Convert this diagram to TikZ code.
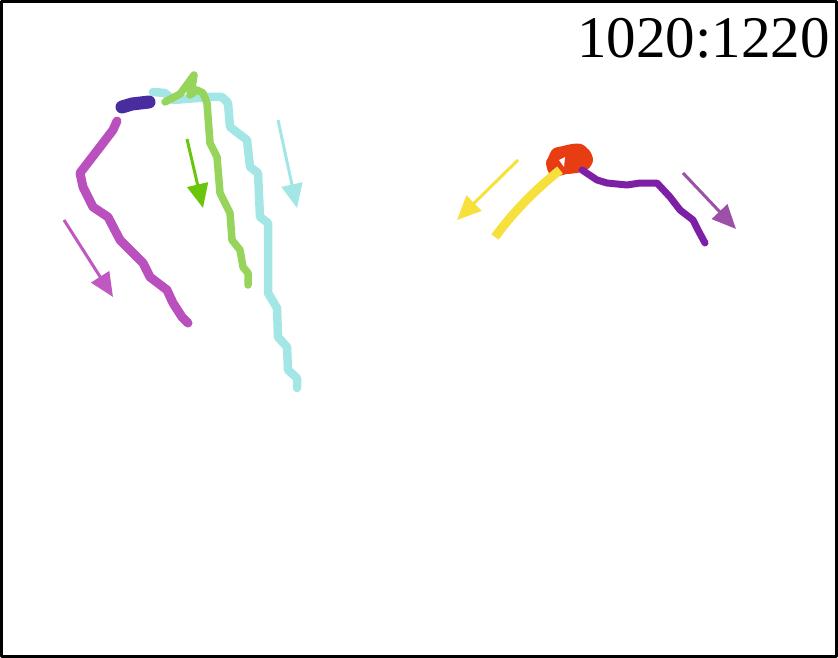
\documentclass[tikz,border=0pt]{standalone}
\usepackage{fontspec}
\setmainfont{Liberation Serif}
\usetikzlibrary{arrows.meta}

\begin{document}
\begin{tikzpicture}[x=1pt, y=-1pt, line join=round,
  track/.style={line width=#1, line cap=round},
  track/.default=7pt,
  motion/.style={draw=#1, line width=3pt,
    -{Triangle[length=24pt, width=21pt, fill=#1]}}]
  \useasboundingbox (0,0) rectangle (838,658);
  \draw[line width=3pt] (1.5,1.5) rectangle (836.5,656.5);
  \node[anchor=base east, inner sep=0pt, font=\fontsize{59}{60}\selectfont]
    (stamp) at (830,58) {1020:1220};
  % left group
  \definecolor{plum}{RGB}{186,80,190}
  \definecolor{plumarrow}{RGB}{192,88,194}
  \definecolor{indigo}{RGB}{72,44,160}
  \definecolor{aqua}{RGB}{164,230,230}
  \definecolor{lime}{RGB}{150,212,92}
  \definecolor{limearrow}{RGB}{106,198,12}
  \draw[track=8.5pt, aqua] (153,92) -- (165,93) -- (173,100) -- (210,97)
    -- (222,97) -- (228,103) -- (230,127) -- (247,140) -- (250,167)
    -- (258,173) -- (260,217) -- (268,223) -- (268,293) -- (277,308)
    -- (278,337) -- (287,347) -- (288,370) -- (297,378) -- (297,388);
  \draw[track=7.5pt, lime] (165,102) -- (180,94) -- (186,86) -- (194,75)
    -- (192,88) -- (190,95) -- (197,90) -- (203,93) -- (207,103)
    -- (210,143) -- (217,157) -- (220,193) -- (230,213) -- (232,240)
    -- (240,250) -- (243,267) -- (248,273) -- (248,285);
  \draw[track=13pt, indigo] (122,107) -- (132,104) -- (149,102);
  \draw[track=9pt, plum] (117,121) -- (113,130) -- (100,147) -- (80,173)
    -- (83,187) -- (93,207) -- (108,217) -- (120,240) -- (130,250)
    -- (143,263) -- (150,277) -- (167,290) -- (173,303) -- (182,317)
    -- (188,323);
  \coordinate (p0) at (64,220);
  \coordinate (p1) at (113,297);
  \coordinate (g0) at (187,139);
  \coordinate (g1) at (203,208);
  \coordinate (c0) at (278,120);
  \coordinate (c1) at (297,208);
  \draw[motion=plumarrow] (p0) -- (p1);
  \draw[motion=limearrow] (g0) -- (g1);
  \draw[motion=aqua] (c0) -- (c1);
  % right group
  \definecolor{sun}{RGB}{246,224,60}
  \definecolor{ember}{RGB}{232,60,18}
  \definecolor{grape}{RGB}{126,32,166}
  \definecolor{grapearrow}{RGB}{156,80,168}
  \fill[ember] plot[smooth cycle, tension=0.6] coordinates {(548,158)
    (553,149) (563,146) (572,144) (581,144) (589,150) (593,160)
    (588,169) (577,173) (567,174) (557,176) (549,173) (546,163)};
  \fill[white] (559,160) -- (565,157) -- (564,167) -- cycle;
  \draw[track=7pt, grape] (582,170) -- (597,180) -- (607,183) -- (627,185)
    -- (640,183) -- (657,183) -- (670,197) -- (680,210) -- (693,220)
    -- (698,230) -- (705,243);
  \draw[line width=9pt, sun] (495,237) .. controls (515,210) and (535,190) .. (560,170);
  \coordinate (y0) at (518,160);
  \coordinate (y1) at (457,220);
  \coordinate (v0) at (683,173);
  \coordinate (v1) at (736,229);
  \draw[motion=sun] (y0) -- (y1);
  \draw[motion=grapearrow] (v0) -- (v1);
\end{tikzpicture}
\end{document}
